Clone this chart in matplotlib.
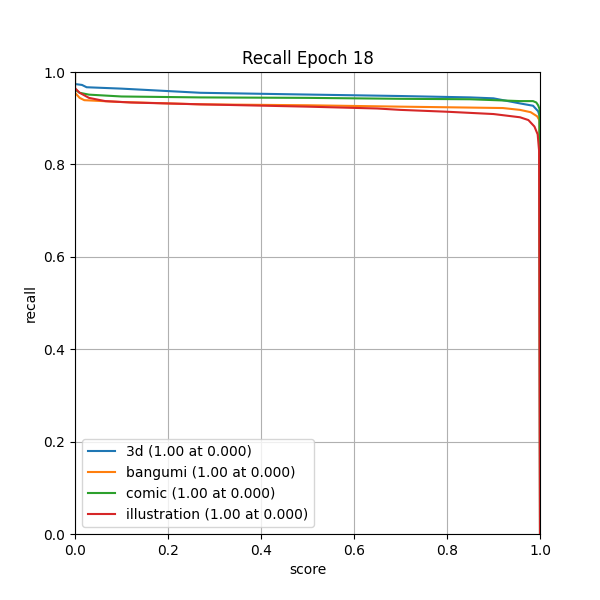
import matplotlib
matplotlib.use("Agg")
import matplotlib.pyplot as plt

# score / recall points
names = ['3d', 'bangumi', 'comic', 'illustration']
best_recall = [1.00, 1.00, 1.00, 1.00]
best_score = [0.000, 0.000, 0.000, 0.000]

score_3d = [0.0, 0.0, 0.015, 0.025, 0.1, 0.27, 0.45, 0.7, 0.85, 0.9, 0.957, 0.985, 0.996, 0.999, 1.0]
recall_3d = [1.0, 0.974, 0.972, 0.967, 0.964, 0.955, 0.952, 0.948, 0.945, 0.943, 0.932, 0.927, 0.915, 0.905, 0.0]

score_bangumi = [0.0, 0.0, 0.01, 0.02, 0.04, 0.1, 0.27, 0.5, 0.7, 0.85, 0.92, 0.957, 0.98, 0.994, 0.999, 1.0]
recall_bangumi = [1.0, 0.955, 0.944, 0.939, 0.938, 0.935, 0.930, 0.928, 0.925, 0.923, 0.922, 0.918, 0.913, 0.904, 0.895, 0.0]

score_comic = [0.0, 0.0, 0.01, 0.03, 0.1, 0.27, 0.5, 0.7, 0.85, 0.957, 0.985, 0.992, 0.996, 0.999, 1.0]
recall_comic = [1.0, 0.962, 0.955, 0.951, 0.947, 0.945, 0.944, 0.942, 0.941, 0.937, 0.937, 0.934, 0.928, 0.92, 0.0]

score_illustration = [0.0, 0.0, 0.01, 0.03, 0.065, 0.12, 0.27, 0.5, 0.65, 0.7, 0.8, 0.9, 0.957, 0.975, 0.988, 0.995, 0.998, 1.0]
recall_illustration = [1.0, 0.965, 0.955, 0.944, 0.937, 0.934, 0.930, 0.925, 0.921, 0.918, 0.914, 0.909, 0.902, 0.896, 0.882, 0.865, 0.83, 0.0]

scores = [score_3d, score_bangumi, score_comic, score_illustration]
recalls = [recall_3d, recall_bangumi, recall_comic, recall_illustration]

fig, ax = plt.subplots(figsize=(6, 6), dpi=100)
for name, s, r, br, bs in zip(names, scores, recalls, best_recall, best_score):
    ax.plot(s, r, label=f'{name} ({br:.2f} at {bs:.3f})')

ax.set_xlim(0, 1)
ax.set_ylim(0, 1)
ax.set_xlabel('score')
ax.set_ylabel('recall')
ax.set_title('Recall Epoch 18')
ax.grid(True)
ax.legend(loc='lower left')
fig.savefig('out.png')
